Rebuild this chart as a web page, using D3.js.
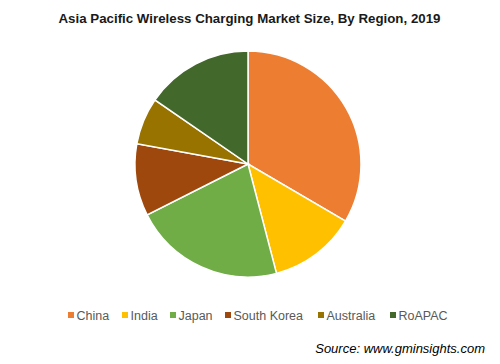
<!DOCTYPE html>
<html><head><meta charset="utf-8">
<script src="https://cdn.jsdelivr.net/npm/d3@7"></script>
<style>body{margin:0;background:#fff;}svg{display:block;font-family:"Liberation Sans",Arial,sans-serif;}</style>
</head><body>
<svg id="c" width="500" height="364"></svg>
<script>
const categories = ["China", "India", "Japan", "South Korea", "Australia", "RoAPAC"];
const values = [33.4, 12.5, 21.6, 10.3, 6.7, 15.4];
const colors = ["#ED7D31", "#FFC000", "#70AD47", "#9E480E", "#997300", "#43682B"];
const legendX = [68, 122, 170, 225, 318, 390];

const svg = d3.select("#c");
svg.append("text").attr("x", 249.5).attr("y", 23).attr("text-anchor", "middle")
  .attr("font-size", 13.3).attr("font-weight", "bold").attr("fill", "#1a1a1a")
  .text("Asia Pacific Wireless Charging Market Size, By Region, 2019");

const data = categories.map((c, i) => ({c, v: values[i], col: colors[i]}));
const pie = d3.pie().value(d => d.v).sort(null);
const arc = d3.arc().innerRadius(0).outerRadius(113);
const g = svg.append("g").attr("transform", "translate(248,164)");
g.selectAll("path").data(pie(data)).join("path")
  .attr("d", arc).attr("fill", d => d.data.col)
  .attr("stroke", "#fff").attr("stroke-width", 1.5);

const lg = svg.append("g");
data.forEach((d, i) => {
  lg.append("rect").attr("x", legendX[i]).attr("y", 312).attr("width", 6).attr("height", 6).attr("fill", d.col);
  lg.append("text").attr("x", legendX[i] + 8.5).attr("y", 319.5).attr("font-size", 12.5)
    .attr("fill", "#595959").text(d.c);
});

svg.append("text").attr("x", 485).attr("y", 353).attr("text-anchor", "end")
  .attr("font-size", 13).attr("font-style", "italic").attr("fill", "#000")
  .text("Source: www.gminsights.com");
</script>
</body></html>
